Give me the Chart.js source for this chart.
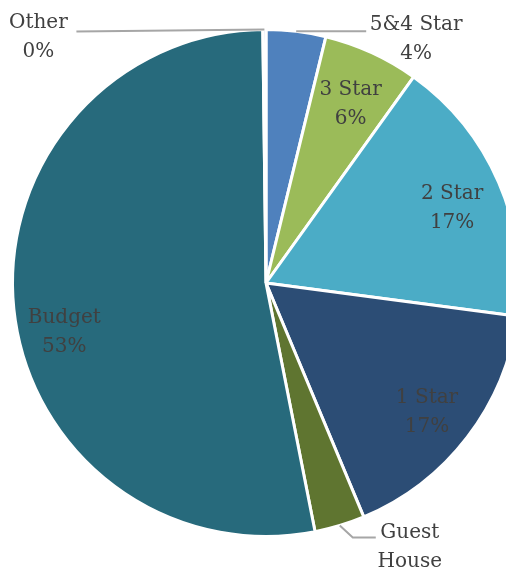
<!DOCTYPE html>
<html>
<head>
<meta charset="utf-8">
<script src="https://cdn.jsdelivr.net/npm/chart.js@4.4.1/dist/chart.umd.min.js"></script>
<style>
  html, body { margin: 0; padding: 0; background: #fff; overflow: hidden; }
  #wrap { position: absolute; left: 0; top: 0; width: 532px; height: 576px; }
</style>
</head>
<body>
<div id="wrap"><canvas id="hotelPie"></canvas></div>
<script>
// share of hotel types (clockwise from 12 o'clock)
const categories = ['5&4 Star', '3 Star', '2 Star', '1 Star', 'Guest House', 'Budget', 'Other'];
const shares = [3.8, 6.1, 17.2, 16.6, 3.2, 52.9, 0.2];
const pctLabels = ['4%', '6%', '17%', '17%', '', '53%', '0%'];
const sliceColors = ['#4F81BD', '#9BBB59', '#4BACC6', '#2C4D75', '#5F7530', '#276A7C', '#8EB4E3'];

// which labels sit outside with a leader line (offsets from the slice edge)
const outside = {
  '5&4 Star': { line: [[0, 0], [70, 0]], text: [120, -7] },
  'Guest House': { line: [[0, 0], [13, 12], [36, 12]], text: [70, 7] },
  'Other': { line: [[0, 0], [-188, 2]], text: [-226, -7] }
};
// small nudges for the inside labels
const nudge = { 'Budget': [0, 22] };

const labelFont = '20px "DejaVu Serif"';
const textColor = '#404040';
const lineGap = 29;

const labelPlugin = {
  id: 'sliceLabels',
  afterDatasetsDraw(chart) {
    const ctx = chart.ctx;
    const arcs = chart.getDatasetMeta(0).data;
    ctx.save();
    ctx.font = labelFont;
    ctx.fillStyle = textColor;
    ctx.textAlign = 'center';
    ctx.textBaseline = 'middle';
    arcs.forEach((arc, i) => {
      const name = categories[i];
      const mid = (arc.startAngle + arc.endAngle) / 2;
      const lines = name === 'Guest House' ? ['Guest', 'House'] : [name];
      if (pctLabels[i]) lines.push(pctLabels[i]);
      if (outside[name]) {
        const o = outside[name];
        const ex = arc.x + Math.cos(mid) * arc.outerRadius;
        const ey = arc.y + Math.sin(mid) * arc.outerRadius;
        ctx.strokeStyle = '#A6A6A6';
        ctx.lineWidth = 2;
        ctx.beginPath();
        o.line.forEach((p, k) => {
          if (k === 0) ctx.moveTo(ex + p[0], ey + p[1]);
          else ctx.lineTo(ex + p[0], ey + p[1]);
        });
        ctx.stroke();
        lines.forEach((t, k) => ctx.fillText(t, ex + o.text[0], ey + o.text[1] + k * lineGap));
      } else {
        const r = arc.outerRadius * 0.8;
        const n = nudge[name] || [0, 0];
        const cx = arc.x + Math.cos(mid) * r + n[0];
        const cy = arc.y + Math.sin(mid) * r + n[1] + 6;
        lines.forEach((t, k) => ctx.fillText(t, cx, cy + (k - (lines.length - 1) / 2) * lineGap));
      }
    });
    ctx.restore();
  }
};

new Chart(document.getElementById('hotelPie'), {
  type: 'pie',
  data: {
    labels: categories,
    datasets: [{
      data: shares,
      backgroundColor: sliceColors,
      borderColor: '#ffffff',
      borderWidth: 3
    }]
  },
  options: {
    responsive: true,
    maintainAspectRatio: false,
    animation: false,
    layout: { padding: { left: 11, right: 11, top: 28, bottom: 38 } },
    plugins: {
      legend: { display: false },
      tooltip: { enabled: false }
    }
  },
  plugins: [labelPlugin]
});
</script>
</body>
</html>
